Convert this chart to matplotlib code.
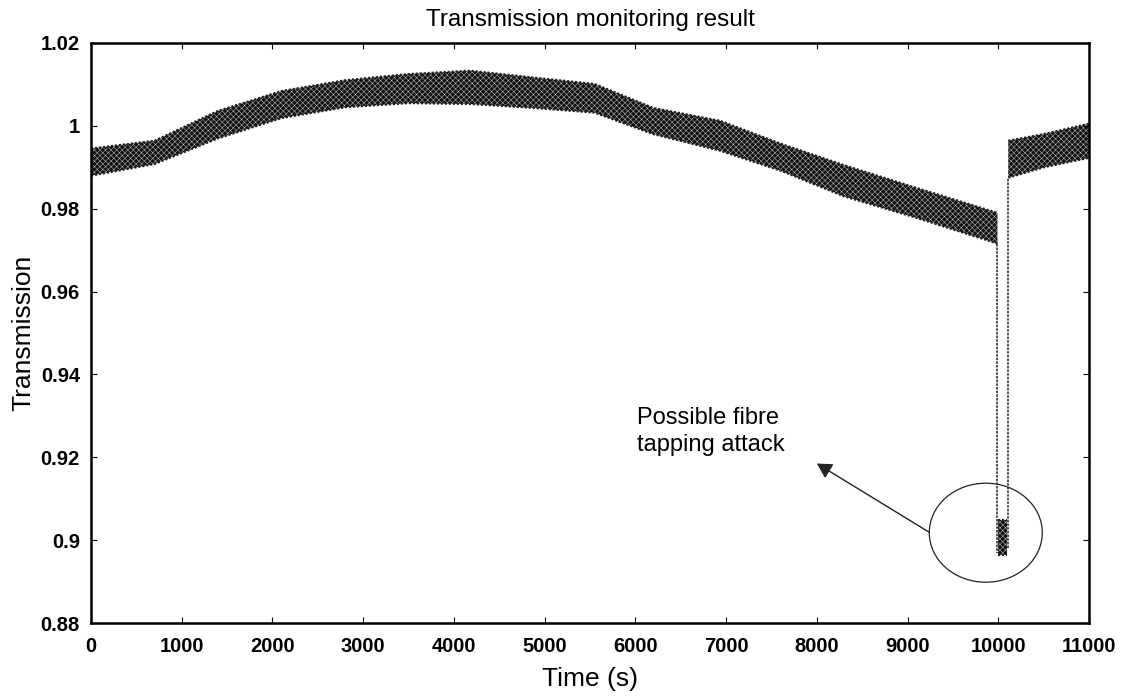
import numpy as np
import matplotlib.pyplot as plt
from matplotlib.patches import Ellipse

plt.rcParams['font.family'] = ['Liberation Sans', 'DejaVu Sans']
plt.rcParams['hatch.linewidth'] = 0.3

# band envelope (before the tap)
t_pre = [0, 700, 1400, 2100, 2800, 3500, 4180, 4900, 5550, 6200, 6935, 7600, 8300, 9100, 9990]
upper_pre = [0.9945, 0.9964, 1.0036, 1.0084, 1.0110, 1.0125, 1.0133, 1.0116, 1.0101, 1.0043, 1.0012, 0.9957, 0.9905, 0.9850, 0.9790]
lower_pre = [0.9880, 0.9908, 0.9970, 1.0019, 1.0045, 1.0055, 1.0053, 1.0043, 1.0032, 0.9980, 0.9940, 0.9892, 0.9830, 0.9778, 0.9716]

# after the tap
t_post = [10110, 10500, 11000]
upper_post = [0.9964, 0.9980, 1.0005]
lower_post = [0.9875, 0.9900, 0.9923]

# the dip itself
dip_t = [9995, 10100]
dip_upper = [0.9048, 0.9048]
dip_lower = [0.8964, 0.8964]
fall_t = [9990, 9990]
fall_v = [0.9716, 0.8970]
rise_t = [10110, 10110]
rise_v = [0.8980, 0.9875]

yticks = [0.88, 0.90, 0.92, 0.94, 0.96, 0.98, 1.00, 1.02]
ytick_labels = ['0.88', '0.9', '0.92', '0.94', '0.96', '0.98', '1', '1.02']
xticks = list(range(0, 11001, 1000))

fig = plt.figure(figsize=(11.31, 6.98), dpi=100)
ax = fig.add_axes([0.0805, 0.1074, 0.8824, 0.831])

band = dict(facecolor='#111111', edgecolor='#d8d8d8', hatch='xxxxxx', linewidth=0)
for t, lo, hi in [(t_pre, lower_pre, upper_pre), (t_post, lower_post, upper_post), (dip_t, dip_lower, dip_upper)]:
    ax.fill_between(t, lo, hi, **band)
    # ragged-looking rim
    ax.plot(t, hi, color='#222222', lw=1.6, ls=(0, (1, 0.8)))
    ax.plot(t, lo, color='#222222', lw=1.6, ls=(0, (1, 0.8)))
ax.plot(fall_t, fall_v, color='#333333', lw=1.2, ls=(0, (1.5, 0.7)))
ax.plot(rise_t, rise_v, color='#333333', lw=1.2, ls=(0, (1.5, 0.7)))

ax.add_patch(Ellipse((9862, 0.9018), 1246, 0.0239, fill=False, edgecolor='#222222', lw=0.9))
ax.annotate('', xy=(8000, 0.9185), xytext=(9239, 0.9019),
            arrowprops=dict(arrowstyle='-|>,head_length=0.9,head_width=0.5',
                            color='#222222', lw=1.0, shrinkA=0, shrinkB=0))
ax.text(6020, 0.9262, 'Possible fibre\ntapping attack', fontsize=17,
        ha='left', va='center', linespacing=1.3)

ax.set_xlim(0, 11000)
ax.set_ylim(0.88, 1.02)
ax.set_xticks(xticks)
ax.set_xticklabels([str(x) for x in xticks], fontweight='bold', fontsize=14.5)
ax.set_yticks(yticks)
ax.set_yticklabels(ytick_labels, fontweight='bold', fontsize=14.5)
ax.tick_params(direction='in', length=4, width=0.8, top=True, right=True)
ax.tick_params(axis='x', pad=10)
ax.tick_params(axis='y', pad=8)
for s in ax.spines.values():
    s.set_linewidth(1.8)

ax.set_title('Transmission monitoring result', fontsize=17.5, pad=12)
ax.set_xlabel('Time (s)', fontsize=19, labelpad=8)
ax.set_ylabel('Transmission', fontsize=19, labelpad=4)

fig.savefig('out.png', dpi=100)
